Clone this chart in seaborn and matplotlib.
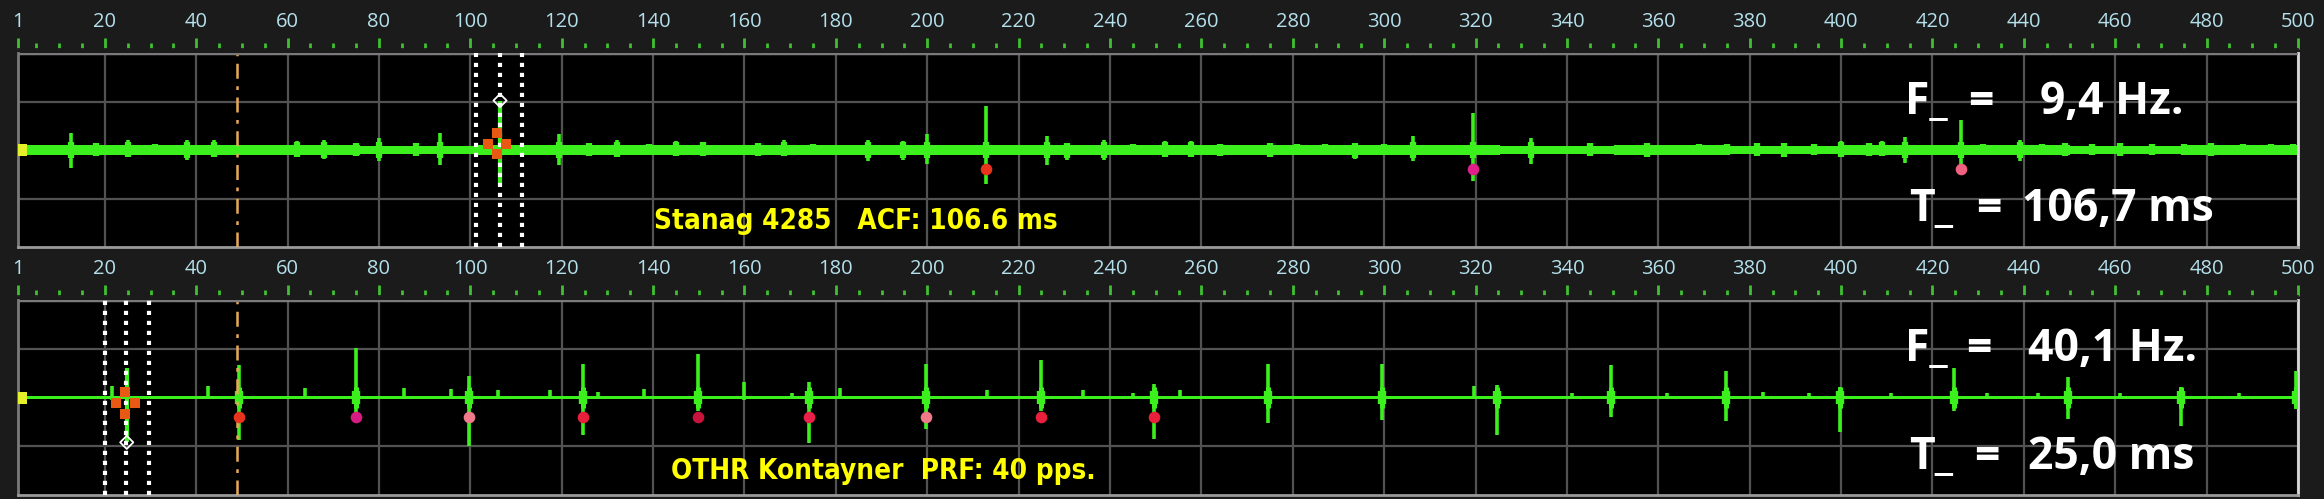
import numpy as np
import pandas as pd
import matplotlib
matplotlib.use("Agg")
import matplotlib.pyplot as plt
from matplotlib.ticker import MultipleLocator, FixedLocator
import seaborn as sns

# ---- data (lag axis in samples / ms) ----
x_ticks = [1, 20, 40, 60, 80, 100, 120, 140, 160, 180, 200, 220, 240, 260, 280,
           300, 320, 340, 360, 380, 400, 420, 440, 460, 480, 500]

# top panel: Stanag 4285 ACF
stanag_x = [12.5, 18, 25, 31, 38, 44, 62, 68, 75, 80, 88, 93.4, 119.4, 126, 132, 139,
            145, 151, 163, 168.6, 175, 187, 194.7, 200, 212.8, 226.2, 230.5, 238.7,
            245, 252, 257.7, 264, 275, 281, 287, 293.6, 300, 306.4, 319.5, 332.2,
            345, 351, 357.5, 369, 375, 381.5, 387.5, 394, 400, 406, 409, 414, 426.3,
            431, 439.2, 444, 449, 455, 461, 468, 475, 481, 488, 494, 499]
stanag_hi = [0.35, 0.15, 0.2, 0.12, 0.2, 0.2, 0.18, 0.2, 0.15, 0.25, 0.15, 0.35, 0.32, 0.15,
             0.2, 0.12, 0.18, 0.17, 0.15, 0.2, 0.12, 0.2, 0.18, 0.32, 0.9, 0.29, 0.15, 0.2,
             0.12, 0.18, 0.18, 0.12, 0.15, 0.12, 0.12, 0.15, 0.12, 0.29, 0.76, 0.25,
             0.15, 0.1, 0.15, 0.12, 0.12, 0.15, 0.15, 0.12, 0.18, 0.15, 0.18, 0.27, 0.61,
             0.12, 0.2, 0.12, 0.15, 0.12, 0.15, 0.12, 0.12, 0.15, 0.12, 0.12, 0.12]
stanag_lo = [-0.37, -0.12, -0.15, -0.1, -0.2, -0.15, -0.15, -0.18, -0.12, -0.22, -0.12, -0.31,
             -0.31, -0.12, -0.15, -0.1, -0.12, -0.12, -0.12, -0.12, -0.1, -0.22, -0.2, -0.28,
             -0.71, -0.31, -0.2, -0.2, -0.1, -0.15, -0.15, -0.12, -0.15, -0.1, -0.1, -0.18,
             -0.1, -0.23, -0.64, -0.28, -0.12, -0.1, -0.15, -0.1, -0.1, -0.12, -0.15, -0.1,
             -0.15, -0.12, -0.12, -0.26, -0.5, -0.1, -0.22, -0.1, -0.12, -0.1, -0.12, -0.1,
             -0.1, -0.12, -0.1, -0.1, -0.1]
stanag_band = [0.1, 0.11, 0.1, 0.09, 0.11, 0.1, 0.11, 0.1, 0.1, 0.11,
               0.1, 0.11, 0.1, 0.09, 0.1, 0.09, 0.1, 0.1, 0.09, 0.1]
stanag_peak = (106.5, 1.02, -0.71)
stanag_marks = [101.2, 106.5, 111.3]
stanag_cross = (105.8, 0.13)
stanag_dots = [212.8, 319.5, 426.3]

# bottom panel: OTHR Kontayner
othr_x = [21.6, 42.5, 49.4, 63.8, 75, 85.5, 95.8, 99.8, 106, 117.5, 124.6, 128, 138,
          149.8, 160, 170.4, 174.2, 181, 199.8, 213, 224.8, 234, 245, 249.6, 255.4,
          274.6, 299.6, 319.7, 324.8, 341, 349.6, 362, 374.8, 383, 393, 399.7, 411,
          424.7, 432, 443, 449.6, 461, 474.5, 487, 499.6]
othr_hi = [0.23, 0.23, 0.67, 0.2, 1.02, 0.2, 0.18, 0.44, 0.15, 0.15, 0.69, 0.12, 0.18,
           0.9, 0.31, 0.1, 0.31, 0.2, 0.69, 0.15, 0.77, 0.15, 0.1, 0.27, 0.15,
           0.69, 0.69, 0.24, 0.25, 0.1, 0.66, 0.1, 0.54, 0.12, 0.1, 0.22, 0.1,
           0.6, 0.1, 0.1, 0.42, 0.1, 0.22, 0.1, 0.54]
othr_lo = [-0.05, -0.04, -0.88, -0.04, -0.33, -0.04, -0.04, -1.0, -0.04, -0.04, -0.77, -0.04,
           -0.04, -0.27, -0.05, -0.04, -0.93, -0.04, -0.64, -0.04, -0.28, -0.04, -0.04, -0.86,
           -0.04, -0.52, -0.47, -0.04, -0.76, -0.04, -0.4, -0.04, -0.49, -0.04, -0.04, -0.7,
           -0.04, -0.28, -0.04, -0.04, -0.45, -0.04, -0.58, -0.04, -0.24]
othr_band = [0.035] * 20
othr_peak = (24.8, 0.61, -0.92)
othr_marks = [20.1, 24.7, 29.7]
othr_cross = (24.5, -0.11)
othr_dots = [49.4, 75, 99.8, 124.6, 149.8, 174.2, 199.8, 224.8, 249.6]

ref_line_x = 49

top_label = "Stanag 4285   ACF: 106.6 ms"
bot_label = "OTHR Kontayner  PRF: 40 pps."
top_readout = ("9,4 Hz.", "106,7 ms")
bot_readout = ("40,1 Hz.", "25,0 ms")

# ---- styling ----
GREEN = "#3cf01e"
BG = "#1b1b1b"
sns.set_theme(style="dark", rc={"axes.facecolor": "black", "figure.facecolor": BG})
plt.rcParams["font.family"] = ["Open Sans", "DejaVu Sans"]

fig = plt.figure(figsize=(23.24, 4.99), dpi=100)
ax_top = fig.add_axes([18 / 2324, 1 - 247 / 499, 2280 / 2324, 194 / 499])
ax_bot = fig.add_axes([18 / 2324, 1 - 495 / 499, 2280 / 2324, 195 / 499])


def draw_panel(ax, sx, shi, slo, band, peak, marks, cross, dots, dot_colors,
               label, readout, thick_body):
    ax.set_xlim(1, 500)
    ax.set_ylim(-2, 2)
    ax.set_facecolor("black")

    # ruler on top
    ax.xaxis.tick_top()
    ax.xaxis.set_major_locator(FixedLocator(x_ticks))
    ax.xaxis.set_minor_locator(MultipleLocator(5))
    ax.set_xticklabels([str(t) for t in x_ticks])
    ax.tick_params(axis="x", which="major", length=8, width=2, color="#40c030",
                   labelcolor="#b4e0ec", labelsize=14.5, pad=4)
    ax.tick_params(axis="x", which="minor", length=4, width=2, color="#40c030")
    ax.spines["top"].set_position(("outward", 3))
    ax.spines["top"].set_color(BG)
    ax.set_yticks([-1, 1])
    ax.set_yticklabels([])
    ax.tick_params(axis="y", length=0)
    ax.grid(True, which="major", color="#525252", lw=1.6)
    ax.axhline(2, color="#7a7a7a", lw=2.5, zorder=5)
    ax.spines["left"].set_color("#7a7a7a")
    ax.spines["left"].set_linewidth(2)
    ax.spines["right"].set_color("#d8d8d8")
    ax.spines["right"].set_linewidth(2)
    ax.spines["bottom"].set_color("#9a9a9a")
    ax.spines["bottom"].set_linewidth(2)

    # noise floor
    edges = np.linspace(1, 500, len(band) + 1)
    ax.fill_between(edges, -np.r_[band, band[-1]], np.r_[band, band[-1]],
                    step="post", color=GREEN, lw=0, zorder=2)

    # impulses
    ax.vlines(sx, slo, shi, color=GREEN, lw=2.6, zorder=3)
    if thick_body:
        big = [x for x, h, l in zip(sx, shi, slo) if h - l > 0.5]
        ax.vlines(big, -0.22, 0.22, color=GREEN, lw=3.6, zorder=3)
        ax.vlines(big, -0.13, 0.13, color=GREEN, lw=6, zorder=3)
    else:
        ax.vlines(sx, [max(l, -0.17) for l in slo], [min(h, 0.17) for h in shi],
                  color=GREEN, lw=4.5, zorder=3)

    # ACF peak with cursor lines
    ax.vlines([peak[0]], peak[2], peak[1], color=GREEN, lw=3, zorder=3)
    for m in marks:
        ax.axvline(m, color="white", lw=3, ls=(0, (1, 1.4)), zorder=6)
    sns.scatterplot(x=[peak[0]], y=[peak[1] if peak[1] > -peak[2] else peak[2]],
                    marker="D", s=45, facecolor="none", edgecolor="white",
                    linewidth=1.3, ax=ax, zorder=7)
    cx, cy = cross
    sns.scatterplot(x=[cx, cx - 2.0, cx + 2.0, cx], y=[cy + 0.22, cy, cy, cy - 0.22],
                    marker="s", s=45, color="#e85a14", linewidth=0, ax=ax, zorder=8)

    ax.axvline(ref_line_x, color="#e8a858", lw=1.8, ls=(0, (6, 3, 1.5, 3)), zorder=4)
    sns.scatterplot(x=[1.6], y=[0], marker="s", s=70, color="#e4f02a",
                    linewidth=0, ax=ax, zorder=8)

    for x, c in zip(dots, dot_colors):
        sns.scatterplot(x=[x], y=[-0.4], marker="o", s=70, color=c, linewidth=0,
                        ax=ax, zorder=8)

    ax.text(label[0], label[1], label[2], color="#ffff00", fontsize=20,
            fontweight="bold", fontstretch="condensed", family="DejaVu Sans",
            va="baseline", ha="left", zorder=9)

    f_val, t_val, f_x, t_x, eq_f, eq_t = readout
    kw = dict(color="white", fontsize=32, fontweight="bold", va="baseline",
              ha="left", zorder=9)
    ax.text(414, 0.75, "F_", **kw)
    ax.text(eq_f, 0.75, "=", **kw)
    ax.text(f_x, 0.75, f_val, **kw)
    ax.text(415, -1.47, "T_", **kw)
    ax.text(eq_t, -1.47, "=", **kw)
    ax.text(t_x, -1.47, t_val, **kw)
    ax.set_xlabel("")
    ax.set_ylabel("")


draw_panel(ax_top, stanag_x, stanag_hi, stanag_lo, stanag_band, stanag_peak,
           stanag_marks, stanag_cross, stanag_dots,
           ["#e8341c", "#e0208a", "#f06080"],
           (140.3, -1.63, top_label),
           (top_readout[0], top_readout[1], 443.5, 439.5, 427.9, 429.5), False)
draw_panel(ax_bot, othr_x, othr_hi, othr_lo, othr_band, othr_peak,
           othr_marks, othr_cross, othr_dots,
           ["#e8341c", "#d81b80", "#f07a8a", "#e8203c", "#c8143c",
            "#e8204a", "#f07a8a", "#e8203c", "#e8203c"],
           (143.9, -1.67, bot_label),
           (bot_readout[0], bot_readout[1], 441, 441, 427.3, 429.1), True)

fig.savefig("out.png", dpi=100, facecolor=BG)
